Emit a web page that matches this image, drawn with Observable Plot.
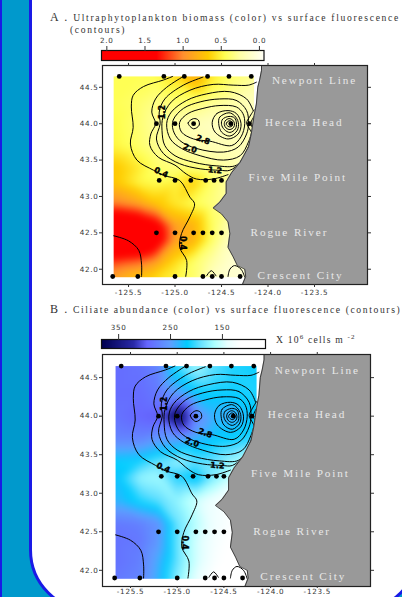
<!DOCTYPE html>
<html><head><meta charset="utf-8">
<script src="https://cdn.jsdelivr.net/npm/d3@7"></script>
<script src="https://cdn.jsdelivr.net/npm/@observablehq/plot@0.6"></script>
<style>
html,body{margin:0;padding:0;width:402px;height:597px;overflow:hidden;background:#0099cc;}
#edge{position:absolute;left:0;top:0;width:2px;height:597px;background:#1a1ae6;}
#sheet{position:absolute;left:29px;top:-100px;width:385px;height:706px;background:#fff;border:3px solid #1a1ae6;border-radius:0 0 62px 62px;box-sizing:content-box;}
.abs{position:absolute;left:0;}
.abs svg{display:block;letter-spacing:.7px;}
.t{position:absolute;white-space:nowrap;font-family:"Liberation Serif",serif;color:#333;font-size:9.6px;letter-spacing:1.68px;line-height:1;}
.t b{font-weight:normal;font-size:12px;}
.t sup{font-size:7px;line-height:0;}
.abs svg .land text{letter-spacing:1.9px;}
.abs svg .lab text{letter-spacing:0;}
</style></head><body>
<div id="edge"></div><div id="sheet"></div>
<div class="t" style="left:50px;top:11px"><b>A .</b> Ultraphytoplankton biomass (color) vs surface fluorescence</div>
<div class="t" style="left:70px;top:25px">(contours)</div>
<div class="t" style="left:50px;top:303px;letter-spacing:1.62px"><b>B .</b> Ciliate abundance (color) vs surface fluorescence (contours)</div>
<div class="t" style="left:276px;top:335px;letter-spacing:1.2px">X 10<sup>6</sup> cells m <sup>-2</sup></div>
<div id="root"></div>
<script>
const gridLons = [-125.66,-125.4,-125.2,-125.0,-124.8,-124.6,-124.4,-124.15];
const gridLats = [44.65,44.3,44.0,43.7,43.4,43.2,42.9,42.6,42.4,42.1,41.89];
const ultraValues = [
 [0.45,0.45,0.45,0.6,0.85,0.55,0.4,0.3],
 [0.45,0.4,0.33,0.38,0.38,0.3,0.25,0.15],
 [0.48,0.38,0.28,0.25,0.2,0.15,0.2,0.2],
 [0.5,0.4,0.3,0.25,0.2,0.2,0.2,0.2],
 [0.7,0.55,0.4,0.35,0.35,0.3,0.25,0.15],
 [0.7,0.5,0.45,0.5,0.65,0.4,0.25,0.2],
 [1.05,0.9,0.7,0.55,0.45,0.35,0.3,0.2],
 [1.9,1.8,1.5,0.9,0.8,0.42,0.2,0.1],
 [2,2,1.6,0.9,0.8,0.4,0.15,0.1],
 [1.2,1.1,0.9,0.6,0.4,0.25,0.1,0.05],
 [0.9,0.7,0.6,0.5,0.4,0.15,0.1,0.05]];
const ciliateValues = [
 [290,285,270,200,170,195,210,215],
 [290,290,280,250,220,215,215,210],
 [285,295,300,370,270,235,240,220],
 [270,270,255,250,235,220,215,205],
 [215,210,190,175,195,190,170,150],
 [225,175,170,210,225,180,150,140],
 [235,210,195,175,150,130,120,115],
 [280,275,260,190,160,130,115,110],
 [285,280,255,190,150,125,110,105],
 [285,275,240,190,150,120,105,100],
 [280,270,235,180,140,110,100,100]];
const ultraDomain = [-0.05,0.25,0.46,0.67,1.0,1.35,2.1];
const ultraRange = ["#fffff5","#ffffa8","#ffff50","#ffcc00","#ff9030","#ff0000","#ff0000"];
const ciliateDomain = [382,321,295,250,218,192,166,140,114,60];
const ciliateRange = ["#000050","#2a2aa8","#6666ff","#5f9fff","#00ccff","#66e0ff","#aaffff","#e8ffff","#ffffff","#ffffff"];
const stations = [[-125.6,44.65],[-125.12,44.65],[-124.9,44.65],[-124.65,44.65],[-124.42,44.65],[-124.18,44.65],
 [-125.2,44],[-125,44],[-124.8,44],[-124.4,44],[-124.2,44],
 [-125.17,43.22],[-125,43.22],[-124.83,43.22],[-124.67,43.22],[-124.58,43.22],[-124.5,43.22],
 [-125.2,42.5],[-125,42.5],[-124.8,42.5],[-124.7,42.5],[-124.6,42.5],[-124.5,42.5],
 [-125.67,41.9],[-125.4,41.9],[-125,41.9],[-124.7,41.9],[-124.6,41.9],[-124.5,41.9],[-124.3,41.9]];
const coast = [[-124.07,44.80],[-124.07,44.73],[-124.09,44.60],[-124.11,44.50],[-124.125,44.27],[-124.15,44.11],[-124.18,43.86],[-124.21,43.68],[-124.30,43.47],[-124.39,43.33],[-124.45,43.20],[-124.45,43.04],[-124.52,42.92],[-124.59,42.84],[-124.5,42.76],[-124.43,42.65],[-124.41,42.49],[-124.43,42.30],[-124.375,42.17],[-124.33,42.05],[-124.25,42.0],[-124.24,41.9],[-124.275,41.79]];
const openContours = [
 [[-125.025,44.65],[-125.125,44.60],[-125.34,44.51],[-125.45,44.39],[-125.47,44.23],[-125.45,43.95],[-125.48,43.72],[-125.41,43.50],[-125.23,43.36],[-125.125,43.29],[-124.95,43.22],[-124.84,42.99],[-124.79,42.90],[-124.84,42.72],[-124.93,42.49],[-124.95,42.30],[-124.875,42.12],[-124.885,41.90]],
 [[-125.66,42.46],[-125.5,42.39],[-125.39,42.26],[-125.36,42.07],[-125.36,41.90]],
 [[-124.66,41.91],[-124.61,41.98],[-124.56,41.91]],
 [[-124.43,41.90],[-124.41,42.0],[-124.36,42.05],[-124.29,42.0],[-124.25,41.89]],
 [[-124.91,44.65],[-125.09,44.50],[-125.21,44.34],[-125.25,44.16],[-125.21,44.0],[-125.26,43.86],[-125.27,43.70],[-125.18,43.54],[-125,43.43],[-124.88,43.31],[-124.77,43.24],[-124.59,43.24],[-124.43,43.30]],
 [[-124.70,44.64],[-124.91,44.53],[-125.11,44.34],[-125.17,44.16],[-125.16,44.0],[-125.2,43.79],[-125.125,43.59],[-124.95,43.45],[-124.73,43.38],[-124.52,43.36],[-124.41,43.36],[-124.30,43.47],[-124.21,43.68],[-124.15,43.86]],
 [[-124.125,44.57],[-124.21,44.53],[-124.375,44.53],[-124.59,44.54],[-124.84,44.46],[-125.04,44.30],[-125.13,44.09],[-125.14,43.91],[-125.11,43.70],[-125,43.56],[-124.80,43.47],[-124.55,43.42],[-124.34,43.43],[-124.23,43.63],[-124.16,43.86]],
 [[-124.16,44.18],[-124.23,44.34],[-124.41,44.44],[-124.66,44.41],[-124.875,44.32],[-125.04,44.16],[-125.09,44.0],[-125.05,43.79],[-124.93,43.66],[-124.73,43.56],[-124.48,43.50],[-124.30,43.56],[-124.21,43.75],[-124.17,43.91]],
 [[-124.15,44.19],[-124.20,44.09],[-124.23,44.01],[-124.19,43.91],[-124.15,43.82]],
 [[-124.14,44.12],[-124.185,44.0],[-124.14,43.9]]
];
const closedContours = [
 [[-124.23,44.18],[-124.34,44.32],[-124.52,44.34],[-124.73,44.30],[-124.91,44.21],[-125.02,44.05],[-125.02,43.91],[-124.95,43.77],[-124.77,43.66],[-124.48,43.61],[-124.32,43.68],[-124.23,43.86],[-124.21,44.0]],
 [[-124.34,44.23],[-124.52,44.25],[-124.70,44.21],[-124.86,44.14],[-124.95,44.02],[-124.93,43.885],[-124.80,43.79],[-124.625,43.76],[-124.39,43.70],[-124.29,43.82],[-124.25,44.0],[-124.27,44.14]],
 [[-124.43,44.18],[-124.55,44.14],[-124.60,44.02],[-124.57,43.885],[-124.43,43.79],[-124.32,43.86],[-124.29,44.0],[-124.34,44.14]],
 [[-124.42,44.15],[-124.52,44.09],[-124.53,44.0],[-124.50,43.885],[-124.41,43.83],[-124.33,43.91],[-124.32,44.02],[-124.36,44.11]],
 [[-124.42,44.10],[-124.49,44.06],[-124.50,43.99],[-124.47,43.92],[-124.41,43.88],[-124.35,43.93],[-124.34,44.01],[-124.36,44.08]],
 [[-124.42,44.07],[-124.46,44.04],[-124.47,43.99],[-124.45,43.94],[-124.41,43.92],[-124.37,43.95],[-124.36,44.0],[-124.38,44.05]],
 [[-124.42,44.04],[-124.44,44.02],[-124.45,43.995],[-124.43,43.965],[-124.41,43.955],[-124.385,43.97],[-124.38,44.0],[-124.39,44.03]],
 [[-124.80,44.07],[-124.86,44.01],[-124.80,43.93],[-124.74,43.98],[-124.75,44.05]]
];
const contourLabels = ["1.2","2.8","2.0","1.2","0.4","0.4"];
const contourLabelLon = [-125.14,-124.70,-124.84,-124.57,-125.15,-124.92];
const contourLabelLat = [44.16,43.78,43.66,43.36,43.33,42.36];
const contourLabelRot = [-90,20,20,5,25,90];
const places = ["Newport Line","Heceta Head","Five Mile Point","Rogue River","Crescent City"];
const placeLon = [-123.50,-123.61,-123.68,-123.77,-123.65];
const placeLat = [44.60,44.02,43.26,42.50,41.92];
const lonTicks = [-125.5,-125,-124.5,-124,-123.5];
const latTicks = [42,42.5,43,43.5,44,44.5];
const ultraTicks = [2,1.5,1,0.5,0];
const ciliateTicks = [350,250,150];

const root = document.getElementById("root");
const put = (svg, top) => { const d=document.createElement("div"); d.className="abs"; d.style.top=top+"px"; d.appendChild(svg); root.appendChild(d); };
const fix1 = d => d.toFixed(1);
const axisFont = {fontFamily:"'DejaVu Sans',sans-serif", fontSize:7.2, color:"#333"};
const flatten = ls => ls.flatMap((l,i)=>l.map(p=>({lon:p[0],lat:p[1],id:i})));

function map(o){
  const samples = gridLats.flatMap((la,i)=>gridLons.map((lo,j)=>({lon:lo,lat:la,v:o.values[i][j]})));
  const H = o.bottom + o.mb;
  const svg = Plot.plot({
    width:402, height:H-o.top0,
    marginLeft:102, marginRight:402-o.right, marginTop:o.top-o.top0, marginBottom:H-o.bottom,
    x:{domain:o.xd}, y:{domain:[41.79,44.80]},
    color:{type:"linear",domain:o.cd,range:o.cr,clamp:true},
    style:{background:"transparent",overflow:"visible"},
    marks:[
      Plot.frame({fill:"white"}),
      Plot.raster(samples,{x:"lon",y:"lat",fill:"v",x1:-125.66,x2:-124.15,y1:41.89,y2:44.65,interpolate:"barycentric",pixelSize:1,blur:3}),
      Plot.line(flatten(openContours),{x:"lon",y:"lat",z:"id",curve:"catmull-rom",stroke:"#000",strokeWidth:1}),
      Plot.line(flatten(closedContours),{x:"lon",y:"lat",z:"id",curve:"catmull-rom-closed",stroke:"#000",strokeWidth:1}),
      Plot.areaX(coast,{y:d=>d[1],x1:d=>d[0],x2:()=>o.xd[1],fill:"#999999",curve:"linear"}),
      Plot.line(coast,{x:d=>d[0],y:d=>d[1],stroke:"#111",strokeWidth:0.7}),
      Plot.dot(stations,{x:d=>d[0],y:d=>d[1],r:2.4,fill:"#000"}),
      Plot.text(contourLabels,{x:(d,i)=>contourLabelLon[i],y:(d,i)=>contourLabelLat[i],rotate:(d,i)=>contourLabelRot[i],text:d=>d,className:"lab",fontSize:8,fontWeight:"bold",fontFamily:"'DejaVu Sans',sans-serif",fill:"#000",stroke:"#000",strokeWidth:0.4}),
      Plot.text(places,{x:(d,i)=>placeLon[i],y:(d,i)=>placeLat[i],text:d=>d,className:"land",fontSize:11.2,fontFamily:"'Liberation Serif',serif",fill:"#e8e8e8"}),
      Plot.frame({stroke:"#222",strokeWidth:1.2}),
      Plot.axisX(lonTicks,{anchor:"bottom",label:null,tickSize:o.bts,tickPadding:o.btp,tickFormat:fix1,...axisFont}),
      Plot.axisX(lonTicks,{anchor:"top",label:null,tickSize:3,tickFormat:()=>"",...axisFont}),
      Plot.axisY(latTicks,{anchor:"left",label:null,tickSize:3,tickPadding:1,tickFormat:fix1,...axisFont}),
      Plot.axisY(latTicks,{anchor:"right",label:null,tickSize:3,tickFormat:()=>"",...axisFont})
    ]
  });
  put(svg,o.top0);
}
function bar(o){
  const svg = Plot.plot({
    width:402, height:o.bottom-o.top0+2,
    marginLeft:o.left, marginRight:402-o.right, marginTop:o.top-o.top0, marginBottom:2,
    x:{domain:o.xd}, y:{domain:[0,1],axis:null},
    color:{type:"linear",domain:o.cd,range:o.cr,clamp:true},
    style:{background:"transparent",overflow:"visible"},
    marks:[
      Plot.raster({fill:(x,y)=>x,x1:o.xd[0],x2:o.xd[1],y1:0,y2:1,pixelSize:1}),
      Plot.frame({stroke:"#111",strokeWidth:1.2}),
      Plot.axisX(o.ticks,{anchor:"top",label:null,tickSize:o.ts,tickPadding:o.tp,tickFormat:o.fmt,...axisFont})
    ]
  });
  put(svg,o.top0);
}
bar({top0:30,top:50,bottom:60,left:101,right:263.5,xd:[2.07,-0.06],cd:ultraDomain,cr:ultraRange,ticks:ultraTicks,ts:5,tp:3,fmt:fix1});
map({top0:44,top:65,bottom:284,right:367,mb:16,bts:3,btp:2,xd:[-125.78,-122.93],values:ultraValues,cd:ultraDomain,cr:ultraRange});
bar({top0:318,top:339,bottom:348,left:101,right:265,xd:[383,67],cd:ciliateDomain,cr:ciliateRange,ticks:ciliateTicks,ts:6,tp:4,fmt:d=>String(d)});
map({top0:340,top:354,bottom:586,right:370,mb:11,bts:2,btp:0,xd:[-125.80,-122.93],values:ciliateValues,cd:ciliateDomain,cr:ciliateRange});
</script>
</body></html>
